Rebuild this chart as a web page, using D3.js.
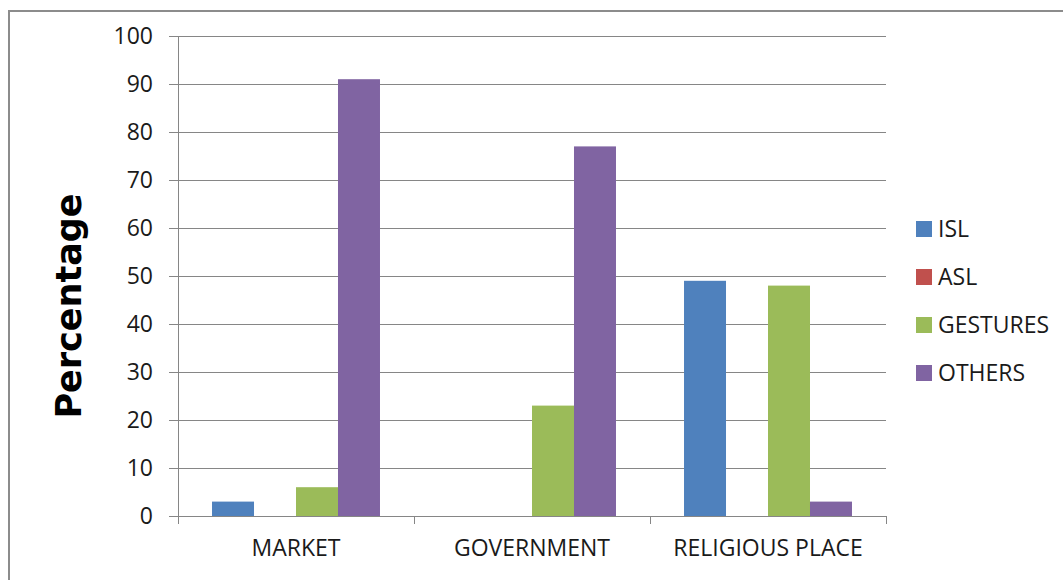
<!DOCTYPE html>
<html>
<head>
<meta charset="utf-8">
<script src="https://cdnjs.cloudflare.com/ajax/libs/d3/7.8.5/d3.min.js"></script>
<style>
  body { margin: 0; background: #fff; }
  svg { display: block; font-family: "Open Sans", sans-serif; }
</style>
</head>
<body>
<div class="container"></div>
<script>
var categories = ["MARKET", "GOVERNMENT", "RELIGIOUS PLACE"];
var seriesNames = ["ISL", "ASL", "GESTURES", "OTHERS"];
var isl = [3, 0, 49];
var asl = [0, 0, 0];
var gestures = [6, 23, 48];
var others = [91, 77, 3];
var yTicks = [0, 10, 20, 30, 40, 50, 60, 70, 80, 90, 100];
var colors = ["#4F81BD", "#C0504D", "#9BBB59", "#8064A2"];

const WIDTH = 1063;
const HEIGHT = 580;
const LEFT = 178, RIGHT = 886, TOP = 36, BOTTOM = 516;
const FONT = '"Open Sans", sans-serif';

var seriesValues = [isl, asl, gestures, others];

var svg = d3.select('.container').append('svg')
  .attr('width', WIDTH)
  .attr('height', HEIGHT);

// outer frame
svg.append('rect')
  .attr('x', 9).attr('y', 11)
  .attr('width', 1080).attr('height', 600)
  .attr('fill', 'none')
  .attr('stroke', '#8c8c8c')
  .attr('stroke-width', 2);

var xScale = d3.scaleBand()
  .domain(categories)
  .range([LEFT, RIGHT]);

var xInner = d3.scaleBand()
  .domain(seriesNames)
  .range([0, xScale.bandwidth()])
  .paddingOuter(0.81)
  .paddingInner(0);

var yScale = d3.scaleLinear()
  .domain([0, 100])
  .range([BOTTOM, TOP]);

// gridlines
svg.append('g').selectAll('line').data(yTicks.slice(1))
  .enter().append('line')
  .attr('x1', LEFT).attr('x2', RIGHT)
  .attr('y1', function(d){ return yScale(d); })
  .attr('y2', function(d){ return yScale(d); })
  .attr('stroke', '#868686')
  .attr('stroke-width', 1)
  .attr('shape-rendering', 'crispEdges');

// y axis
var yAxis = d3.axisLeft(yScale).tickValues(yTicks).tickSize(9).tickPadding(16);
var gy = svg.append('g')
  .attr('transform', 'translate(' + LEFT + ',0)')
  .call(yAxis);
gy.selectAll('line, path').attr('stroke', '#868686').attr('shape-rendering', 'crispEdges');
gy.select('.domain').attr('d', 'M0,' + TOP + 'V' + BOTTOM);
gy.selectAll('text').attr('font-size', 23).attr('fill', '#1a1a1a')
  .attr('font-family', FONT);

// bars
var groups = svg.append('g').selectAll('g').data(categories)
  .enter().append('g')
  .attr('transform', function(d){ return 'translate(' + xScale(d) + ',0)'; });

groups.selectAll('rect')
  .data(function(c, i){
    return seriesNames.map(function(s, j){ return {s: s, v: seriesValues[j][i], j: j}; });
  })
  .enter().append('rect')
  .attr('x', function(d){ return xInner(d.s); })
  .attr('width', xInner.bandwidth())
  .attr('y', function(d){ return yScale(d.v); })
  .attr('height', function(d){ return yScale(0) - yScale(d.v); })
  .attr('fill', function(d){ return colors[d.j]; });

// x axis
var xAxis = d3.axisBottom(xScale).tickSize(0).tickPadding(24);
var gx = svg.append('g')
  .attr('transform', 'translate(0,' + BOTTOM + ')')
  .call(xAxis);
gx.select('.domain').attr('d', 'M' + LEFT + ',0H' + RIGHT).attr('stroke', '#868686')
  .attr('shape-rendering', 'crispEdges');
gx.selectAll('text').attr('font-size', 23).attr('fill', '#1a1a1a')
  .attr('font-family', FONT);
gx.append('g').selectAll('line')
  .data(categories.map(function(c){ return xScale(c); }).concat([RIGHT]))
  .enter().append('line')
  .attr('x1', function(d){ return d; }).attr('x2', function(d){ return d; })
  .attr('y1', 0).attr('y2', 8)
  .attr('stroke', '#868686')
  .attr('shape-rendering', 'crispEdges');

// y title
svg.append('text')
  .attr('transform', 'translate(81,306) rotate(-90)')
  .attr('text-anchor', 'middle')
  .attr('font-size', 35)
  .attr('font-weight', 'bold')
  .attr('font-family', '"DejaVu Sans", sans-serif')
  .attr('fill', '#000')
  .text('Percentage');

// legend
var legend = svg.append('g').selectAll('g').data(seriesNames)
  .enter().append('g')
  .attr('transform', function(d, i){ return 'translate(916,' + (229 + i * 48) + ')'; });
legend.append('rect')
  .attr('x', 0).attr('y', -8)
  .attr('width', 16).attr('height', 16)
  .attr('fill', function(d, i){ return colors[i]; });
legend.append('text')
  .attr('x', 22).attr('y', 0)
  .attr('dy', '0.35em')
  .attr('font-size', 23)
  .attr('fill', '#1a1a1a')
  .attr('font-family', FONT)
  .text(function(d){ return d; });
</script>
</body>
</html>
